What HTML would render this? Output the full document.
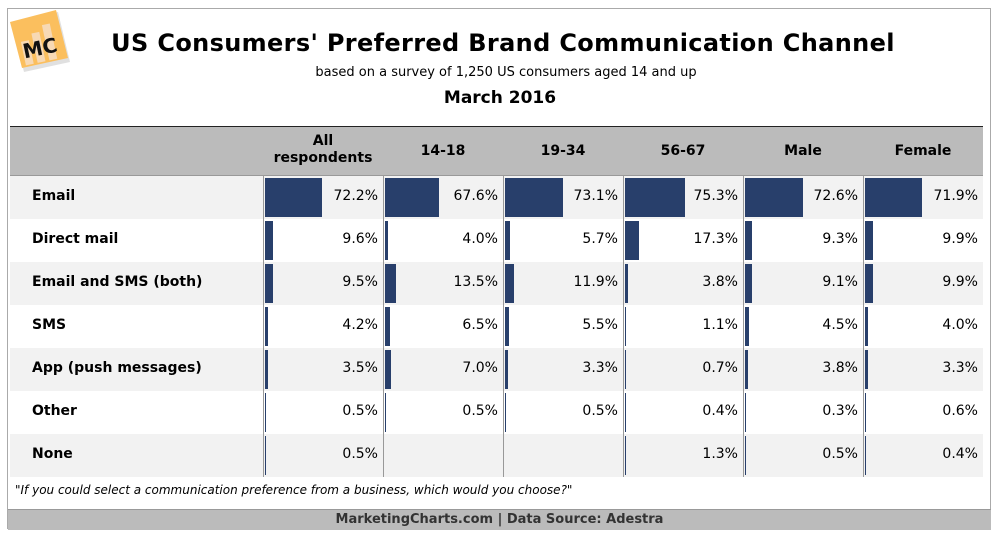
<!DOCTYPE html>
<html><head><meta charset="utf-8"><style>
body{margin:0;width:1000px;height:537px;background:#fff;font-family:"DejaVu Sans","Liberation Sans",sans-serif;position:relative;overflow:hidden}
.frame{position:absolute;left:7px;top:8px;width:984px;height:521px;border:1px solid #aaa;box-sizing:border-box}
.t{position:absolute;white-space:nowrap}
</style></head><body>
<div class="frame"></div>
<svg class="t" style="left:10px;top:10px" width="62" height="62">
<polygon points="2,14 48,2 60,52 14,62" fill="#ccc" opacity=".6"/>
<polygon points="0,12 46,0 58,48 12,58" fill="#fbbf5e"/>
<g transform="rotate(-12 30 35)" fill="#f7d9b5"><rect x="12" y="28" width="8" height="24"/><rect x="24" y="22" width="8" height="30"/><rect x="36" y="16" width="8" height="36"/></g>
<text x="12" y="45" font-family="DejaVu Sans" font-weight="bold" font-size="20" fill="#111" transform="rotate(-12 30 35)">MC</text>
</svg>
<div class="t" style="left:0;width:1000px;top:29px;text-align:center;font-size:24px;letter-spacing:0.35px;font-weight:bold;padding-left:6px;box-sizing:border-box">US Consumers' Preferred Brand Communication Channel</div>
<div class="t" style="left:0;width:1000px;top:65px;text-align:center;font-size:13px;padding-left:12px;box-sizing:border-box">based on a survey of 1,250 US consumers aged 14 and up</div>
<div class="t" style="left:0;width:1000px;top:88px;text-align:center;font-size:17px;font-weight:bold">March 2016</div>
<div id="tbl"></div>
<div class="t" style="left:15px;top:483px;font-size:12px;font-style:italic">"If you could select a communication preference from a business, which would you choose?"</div>
<div class="t" style="left:8px;top:509px;width:983px;height:20px;background:#bbb;border-top:1px solid #999;text-align:center;font-size:13px;font-weight:bold;color:#333;line-height:20px">MarketingCharts.com | Data Source: Adestra</div>
<script>
const categories=["Email","Direct mail","Email and SMS (both)","SMS","App (push messages)","Other","None"];
const groups=["All respondents","14-18","19-34","56-67","Male","Female"];
const allResp=[72.2,9.6,9.5,4.2,3.5,0.5,0.5];
const age1418=[67.6,4.0,13.5,6.5,7.0,0.5,null];
const age1934=[73.1,5.7,11.9,5.5,3.3,0.5,null];
const age5667=[75.3,17.3,3.8,1.1,0.7,0.4,1.3];
const male=[72.6,9.3,9.1,4.5,3.8,0.3,0.5];
const female=[71.9,9.9,9.9,4.0,3.3,0.6,0.4];
const series=[allResp,age1418,age1934,age5667,male,female];
const X0=263,CW=120,Y0=176,RH=43,PX=0.795;
const xCol=i=>X0+i*CW, yRow=j=>Y0+j*RH, wBar=v=>v*PX;
const root=document.getElementById('tbl');
function mk(css,txt){const d=document.createElement('div');d.className='t';d.style.cssText=css;if(txt!=null)d.textContent=txt;root.appendChild(d);return d;}
let r=mk('left:10px;top:126px;width:973px;height:1.5px;background:#222');


let h=mk('left:10px;top:127px;width:973px;height:48px;background:#bbb;border-bottom:1px solid #999');


groups.forEach((g,i)=>{
 const d=mk(`left:${xCol(i)}px;width:${CW}px;top:${i==0?133:143}px;text-align:center;font-size:14px;font-weight:bold;white-space:normal;line-height:17px`,g);
 if(i==0)d.style.padding='0 4px',d.style.boxSizing='border-box';
 
 
});
categories.forEach((c,j)=>{
 const row=mk(`left:10px;top:${yRow(j)}px;width:973px;height:${RH}px;background:${j%2==0?'#f2f2f2':'#fff'}`);
 
 
 const l=mk(`left:32px;top:${yRow(j)+12}px;font-size:14px;font-weight:bold`,c);
 
 
});
series.forEach((s,i)=>{
 const ln=mk(`left:${xCol(i)}px;top:${Y0}px;width:1px;height:${RH*7}px;background:#999`);
 
 
 s.forEach((v,j)=>{
  if(v==null)return;
  const b=mk(`left:${xCol(i)+2}px;top:${yRow(j)+2}px;width:${Math.max(wBar(v),1)}px;height:${RH-4}px;background:#283f6b`);
  
  
  const t=mk(`left:${xCol(i)}px;width:${CW-5}px;top:${yRow(j)+12}px;text-align:right;font-size:14px`,v.toFixed(1)+'%');
  
  
 });
});
</script>
</body></html>
